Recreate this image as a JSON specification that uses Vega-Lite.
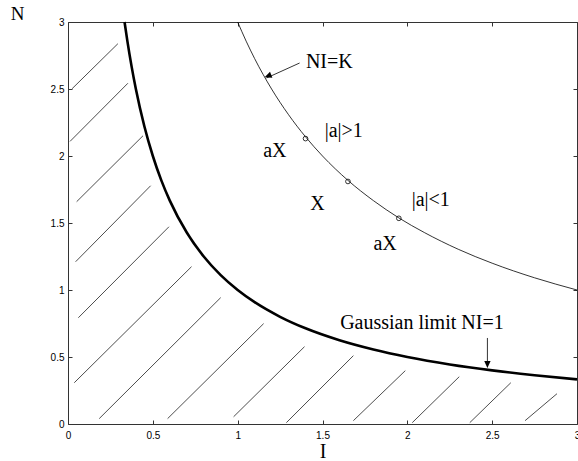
{
  "$schema": "https://vega.github.io/schema/vega-lite/v6.json",
  "width": 509,
  "height": 402,
  "autosize": {"type": "none"},
  "padding": {"left": 68, "top": 22, "right": 1, "bottom": 37},
  "background": "white",
  "config": {
    "view": {"stroke": null},
    "axis": {
      "grid": false,
      "domainColor": "#333",
      "domainWidth": 1,
      "tickColor": "#333",
      "tickSize": -4,
      "tickWidth": 1,
      "labelFont": "Liberation Sans",
      "labelFontSize": 10,
      "labelColor": "#000",
      "labelFlush": false,
      "labelOverlap": false
    }
  },
  "datasets": {
    "hatch": [
      {"x1": 0.024, "y1": 2.502, "x2": 0.294, "y2": 2.838},
      {"x1": 0.012, "y1": 2.109, "x2": 0.353, "y2": 2.543},
      {"x1": 0.051, "y1": 1.659, "x2": 0.442, "y2": 2.151},
      {"x1": 0.045, "y1": 1.211, "x2": 0.487, "y2": 1.778},
      {"x1": 0.061, "y1": 0.793, "x2": 0.595, "y2": 1.472},
      {"x1": 0.037, "y1": 0.308, "x2": 0.728, "y2": 1.174},
      {"x1": 0.184, "y1": 0.040, "x2": 0.900, "y2": 0.943},
      {"x1": 0.587, "y1": 0.040, "x2": 1.153, "y2": 0.749},
      {"x1": 0.976, "y1": 0.054, "x2": 1.394, "y2": 0.577},
      {"x1": 1.287, "y1": 0.010, "x2": 1.682, "y2": 0.510},
      {"x1": 1.682, "y1": 0.025, "x2": 1.988, "y2": 0.398},
      {"x1": 2.029, "y1": 0.010, "x2": 2.306, "y2": 0.353},
      {"x1": 2.368, "y1": 0.010, "x2": 2.610, "y2": 0.308},
      {"x1": 2.694, "y1": 0.025, "x2": 2.882, "y2": 0.226}
    ],
    "gauss": [
      {"x": 0.3333, "y": 3.0}, {"x": 0.35, "y": 2.857}, {"x": 0.375, "y": 2.667},
      {"x": 0.4, "y": 2.5}, {"x": 0.45, "y": 2.222}, {"x": 0.5, "y": 2.0},
      {"x": 0.55, "y": 1.818}, {"x": 0.6, "y": 1.667}, {"x": 0.7, "y": 1.429},
      {"x": 0.8, "y": 1.25}, {"x": 0.9, "y": 1.111}, {"x": 1.0, "y": 1.0},
      {"x": 1.1, "y": 0.909}, {"x": 1.25, "y": 0.8}, {"x": 1.4, "y": 0.714},
      {"x": 1.6, "y": 0.625}, {"x": 1.8, "y": 0.556}, {"x": 2.0, "y": 0.5},
      {"x": 2.25, "y": 0.444}, {"x": 2.5, "y": 0.4}, {"x": 2.75, "y": 0.364},
      {"x": 3.0, "y": 0.333}
    ],
    "nik": [
      {"x": 1.0, "y": 3.0}, {"x": 1.05, "y": 2.857}, {"x": 1.1, "y": 2.727},
      {"x": 1.2, "y": 2.5}, {"x": 1.3, "y": 2.308}, {"x": 1.4, "y": 2.143},
      {"x": 1.5, "y": 2.0}, {"x": 1.65, "y": 1.818}, {"x": 1.8, "y": 1.667},
      {"x": 1.95, "y": 1.538}, {"x": 2.1, "y": 1.429}, {"x": 2.3, "y": 1.304},
      {"x": 2.5, "y": 1.2}, {"x": 2.75, "y": 1.091}, {"x": 3.0, "y": 1.0}
    ],
    "circles": [
      {"x": 1.4, "y": 2.13}, {"x": 1.65, "y": 1.81}, {"x": 1.95, "y": 1.535}
    ],
    "shafts": [
      {"x1": 1.365, "y1": 2.694, "x2": 1.17, "y2": 2.582},
      {"x1": 2.472, "y1": 0.642, "x2": 2.472, "y2": 0.43}
    ],
    "headK": [{"x": 1.159, "y": 2.587}],
    "headG": [{"x": 2.472, "y": 0.418}],
    "labels": [
      {"x": 1.540, "y": 2.657, "text": "NI=K"},
      {"x": 1.625, "y": 2.142, "text": "|a|>1"},
      {"x": 1.219, "y": 1.993, "text": "aX"},
      {"x": 1.470, "y": 1.599, "text": "X"},
      {"x": 2.138, "y": 1.624, "text": "|a|<1"},
      {"x": 1.869, "y": 1.296, "text": "aX"},
      {"x": 2.086, "y": 0.709, "text": "Gaussian limit NI=1"}
    ],
    "frame": [{"x": 0, "y": 0}, {"x": 3, "y": 3}]
  },
  "layer": [
    {
      "layer": [
        {
          "data": {"name": "hatch"},
          "mark": {"type": "rule", "color": "#000", "strokeWidth": 0.7},
          "encoding": {
            "x": {"field": "x1", "type": "quantitative",
              "scale": {"domain": [0, 3], "nice": false, "zero": false},
              "axis": {"orient": "bottom", "values": [0, 0.5, 1, 1.5, 2, 2.5, 3], "format": "~g", "title": "I", "titleFont": "Liberation Serif", "titleFontSize": 20, "titleFontWeight": "normal", "titleColor": "#000", "titleBaseline": "alphabetic", "titleY": 33, "labelPadding": 10}},
            "y": {"field": "y1", "type": "quantitative",
              "scale": {"domain": [0, 3], "nice": false, "zero": false},
              "axis": {"orient": "left", "values": [0, 0.5, 1, 1.5, 2, 2.5, 3], "format": "~g", "title": "N", "titleAngle": 0, "titleFont": "Liberation Serif", "titleFontSize": 19, "titleFontWeight": "normal", "titleColor": "#000", "titleAlign": "center", "titleBaseline": "alphabetic", "titleX": -51, "titleY": -3, "labelPadding": 8}},
            "x2": {"field": "x2"},
            "y2": {"field": "y2"}
          }
        },
        {
          "data": {"name": "gauss"},
          "mark": {"type": "line", "color": "#000", "strokeWidth": 2.6, "interpolate": "monotone"},
          "encoding": {
            "x": {"field": "x", "type": "quantitative"},
            "y": {"field": "y", "type": "quantitative"}
          }
        },
        {
          "data": {"name": "nik"},
          "mark": {"type": "line", "color": "#000", "strokeWidth": 0.8, "interpolate": "monotone"},
          "encoding": {
            "x": {"field": "x", "type": "quantitative"},
            "y": {"field": "y", "type": "quantitative"}
          }
        },
        {
          "data": {"name": "circles"},
          "mark": {"type": "point", "filled": false, "color": "#000", "size": 22, "strokeWidth": 0.8, "opacity": 1},
          "encoding": {
            "x": {"field": "x", "type": "quantitative"},
            "y": {"field": "y", "type": "quantitative"}
          }
        },
        {
          "data": {"name": "shafts"},
          "mark": {"type": "rule", "color": "#000", "strokeWidth": 0.8},
          "encoding": {
            "x": {"field": "x1", "type": "quantitative"},
            "y": {"field": "y1", "type": "quantitative"},
            "x2": {"field": "x2"},
            "y2": {"field": "y2"}
          }
        },
        {
          "data": {"name": "headK"},
          "mark": {"type": "point", "shape": "M0,0L-0.45,1L0.45,1Z", "filled": true, "color": "#000", "size": 200, "angle": 248, "opacity": 1},
          "encoding": {
            "x": {"field": "x", "type": "quantitative"},
            "y": {"field": "y", "type": "quantitative"}
          }
        },
        {
          "data": {"name": "headG"},
          "mark": {"type": "point", "shape": "M0,0L-0.45,1L0.45,1Z", "filled": true, "color": "#000", "size": 200, "angle": 180, "opacity": 1},
          "encoding": {
            "x": {"field": "x", "type": "quantitative"},
            "y": {"field": "y", "type": "quantitative"}
          }
        },
        {
          "data": {"name": "labels"},
          "mark": {"type": "text", "font": "Liberation Serif", "fontSize": 20, "color": "#000", "align": "center", "baseline": "alphabetic"},
          "encoding": {
            "x": {"field": "x", "type": "quantitative"},
            "y": {"field": "y", "type": "quantitative"},
            "text": {"field": "text"}
          }
        }
      ]
    },
    {
      "data": {"name": "frame"},
      "mark": {"type": "point", "opacity": 0},
      "encoding": {
        "x": {"field": "x", "type": "quantitative",
          "scale": {"domain": [0, 3], "nice": false, "zero": false},
          "axis": {"orient": "top", "values": [0, 0.5, 1, 1.5, 2, 2.5, 3], "labels": false, "title": null}},
        "y": {"field": "y", "type": "quantitative",
          "scale": {"domain": [0, 3], "nice": false, "zero": false},
          "axis": {"orient": "right", "values": [0, 0.5, 1, 1.5, 2, 2.5, 3], "labels": false, "title": null}}
      }
    }
  ],
  "resolve": {"scale": {"x": "independent", "y": "independent"}}
}
